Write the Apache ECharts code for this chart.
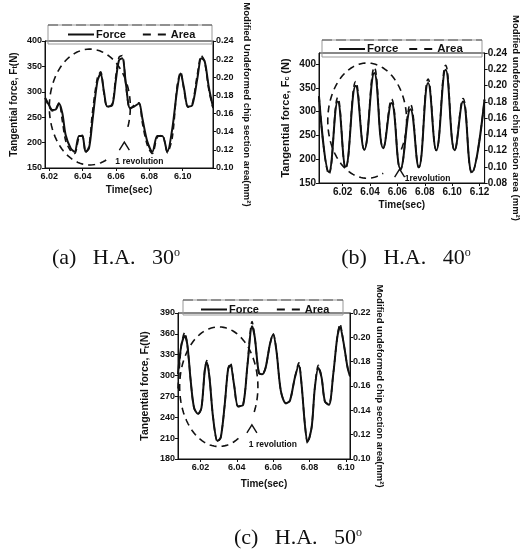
<!DOCTYPE html>
<html>
<head>
<meta charset="utf-8">
<script src="https://cdn.jsdelivr.net/npm/echarts@6/dist/echarts.min.js"></script>
<style>
  html, body { margin: 0; background: #fff; }
  #main { width: 522px; height: 551px; }
</style>
</head>
<body>
<div id="main"></div>
<script>
// (a) H.A. 30
const timeA = [6.0175, 6.0198, 6.0218, 6.0238, 6.0258, 6.0278, 6.0298, 6.0328, 6.0352, 6.0378, 6.0398, 6.0418, 6.0438, 6.0458, 6.0488, 6.0508, 6.0528, 6.0548, 6.0578, 6.0598, 6.0618, 6.0638, 6.0658, 6.0684, 6.0708, 6.0738, 6.0758, 6.0788, 6.0818, 6.0848, 6.0878, 6.0908, 6.0938, 6.0968, 6.0988, 6.1008, 6.1032, 6.1058, 6.1088, 6.1112, 6.1132, 6.1158, 6.1182];
const forceA = [288, 274, 264, 265, 277, 258, 215, 189, 182, 213, 213, 182, 189, 241, 320, 336, 300, 271, 274, 320, 362, 366, 320, 268, 271, 277, 248, 202, 182, 213, 213, 182, 228, 307, 336, 307, 271, 274, 326, 366, 360, 307, 270];
const areaA = [0.177, 0.168, 0.163, 0.165, 0.172, 0.152, 0.130, 0.119, 0.116, 0.134, 0.136, 0.117, 0.124, 0.160, 0.199, 0.206, 0.182, 0.167, 0.171, 0.200, 0.222, 0.224, 0.193, 0.165, 0.169, 0.172, 0.150, 0.125, 0.116, 0.134, 0.136, 0.117, 0.134, 0.192, 0.206, 0.186, 0.167, 0.171, 0.203, 0.224, 0.217, 0.185, 0.166];

// (b) H.A. 40
const timeB = [6.0027, 6.0100, 6.0164, 6.0222, 6.0295, 6.0358, 6.0431, 6.0496, 6.0557, 6.0622, 6.0695, 6.0756, 6.0824, 6.0884, 6.0952, 6.1018, 6.1079, 6.1144, 6.1236];
const forceB = [332, 173, 321, 184, 354, 220, 381, 223, 318, 180, 305, 183, 360, 219, 388, 219, 321, 173, 325];
const areaB = [0.187, 0.091, 0.185, 0.098, 0.205, 0.121, 0.222, 0.123, 0.183, 0.096, 0.177, 0.099, 0.208, 0.120, 0.225, 0.120, 0.184, 0.092, 0.183];

// (c) H.A. 50
const timeC = [6.0077, 6.0095, 6.0114, 6.0128, 6.0147, 6.0165, 6.0187, 6.0206, 6.0224, 6.0235, 6.0250, 6.0270, 6.0294, 6.0312, 6.0334, 6.0352, 6.0365, 6.0385, 6.0407, 6.0435, 6.0459, 6.0484, 6.0499, 6.0521, 6.0539, 6.0558, 6.0582, 6.0600, 6.0618, 6.0642, 6.0670, 6.0692, 6.0719, 6.0741, 6.0756, 6.0774, 6.0789, 6.0811, 6.0829, 6.0848, 6.0866, 6.0884, 6.0906, 6.0930, 6.0952, 6.0967, 6.0985, 6.1009, 6.1022];
const forceC = [302, 343, 357, 345, 292, 254, 245, 254, 307, 319, 297, 239, 206, 211, 259, 309, 315, 287, 256, 258, 316, 371, 355, 304, 302, 311, 345, 359, 335, 278, 260, 264, 297, 315, 287, 230, 205, 225, 283, 311, 297, 263, 258, 302, 355, 370, 350, 311, 299];
const areaC = [0.158, 0.193, 0.204, 0.194, 0.164, 0.142, 0.137, 0.142, 0.173, 0.181, 0.167, 0.134, 0.114, 0.118, 0.145, 0.174, 0.179, 0.161, 0.143, 0.145, 0.178, 0.213, 0.200, 0.171, 0.170, 0.175, 0.194, 0.203, 0.189, 0.156, 0.146, 0.148, 0.167, 0.179, 0.161, 0.129, 0.113, 0.126, 0.159, 0.177, 0.167, 0.147, 0.145, 0.170, 0.200, 0.211, 0.197, 0.175, 0.168];

// tick labels
const xTicksA = [6.02, 6.04, 6.06, 6.08, 6.10];
const xTicksB = [6.02, 6.04, 6.06, 6.08, 6.10, 6.12];
const xTicksC = [6.02, 6.04, 6.06, 6.08, 6.10];
const forceTicksA = [150, 200, 250, 300, 350, 400];
const forceTicksB = [150, 200, 250, 300, 350, 400];
const forceTicksC = [180, 210, 240, 270, 300, 330, 360, 390];
const areaTicksA = [0.10, 0.12, 0.14, 0.16, 0.18, 0.20, 0.22, 0.24];
const areaTicksB = [0.08, 0.10, 0.12, 0.14, 0.16, 0.18, 0.20, 0.22, 0.24];
const areaTicksC = [0.10, 0.12, 0.14, 0.16, 0.18, 0.20, 0.22];

const FONT = '"Liberation Sans", Arial, sans-serif';
const INK = '#111';

const panels = [
  {
    grid: { left: 45, top: 41, width: 168, height: 127 },
    x: [6.0174, 6.1182], xTicks: xTicksA,
    f: [150, 400], fTicks: forceTicksA,
    a: [0.10, 0.24], aTicks: areaTicksA,
    t: timeA, force: forceA, area: areaA,
    fName: 'Tangential force, F{s|t}(N)',
    aName: 'Modified Undeformed chip section area(mm²)',
    gaps: [26, 17, 29], fs: 9, titleSize: 10, smooth: 0.3
  },
  {
    grid: { left: 319, top: 53, width: 166, height: 130 },
    x: [6.0027, 6.1237], xTicks: xTicksB,
    f: [150, 423], fTicks: forceTicksB,
    a: [0.08, 0.24], aTicks: areaTicksB,
    t: timeB, force: forceB, area: areaB,
    fName: 'Tangential force, F{s|c} (N)',
    aName: 'Modified undeformed chip section area (mm²)',
    gaps: [28, 17, 23], fs: 10, titleSize: 11, smooth: 0.45
  },
  {
    grid: { left: 178, top: 313, width: 172, height: 146 },
    x: [6.0077, 6.1022], xTicks: xTicksC,
    f: [180, 390], fTicks: forceTicksC,
    a: [0.10, 0.22], aTicks: areaTicksC,
    t: timeC, force: forceC, area: areaC,
    fName: 'Tangential force, F{s|t}(N)',
    aName: 'Modified undeformed chip section area(mm²)',
    gaps: [27, 20, 23], fs: 9, titleSize: 10.5, smooth: 0.3
  }
];

// "1 revolution" marks, in data units of each panel
const revolutions = [
  { series: 0, t: 6.0443, f: 270, rt: 0.0243, rf: 114, gap: [-60, -20], tip: [6.065, 201], label: [6.0596, 162], text: '1 revolution' },
  { series: 2, t: 6.0379, f: 281, rt: 0.0288, rf: 121, gap: [-65, -30], tip: [6.0616, 179], label: [6.0653, 160], text: '1revolution' },
  { series: 4, t: 6.0301, f: 284, rt: 0.0215, rf: 86, gap: [-55, -25], tip: [6.0483, 229], label: [6.0466, 201], text: '1 revolution' }
];

const grids = [], xAxes = [], yAxes = [], series = [];
const labelBase = { color: INK, fontFamily: FONT, fontWeight: 'bold' };

panels.forEach(function (p, k) {
  grids.push(Object.assign({ show: true, borderColor: INK, borderWidth: 1, backgroundColor: 'transparent' }, p.grid));
  xAxes.push({
    type: 'value', gridIndex: k, min: p.x[0], max: p.x[1],
    name: 'Time(sec)', nameLocation: 'middle', nameGap: p.gaps[1],
    nameTextStyle: Object.assign({ fontSize: 10 }, labelBase),
    axisLine: { onZero: false, lineStyle: { color: INK } },
    axisTick: { length: 3, customValues: p.xTicks, lineStyle: { color: INK } },
    axisLabel: Object.assign({ fontSize: p.fs, margin: 4, customValues: p.xTicks, formatter: function (v) { return v.toFixed(2); } }, labelBase),
    splitLine: { show: false }
  });
  yAxes.push({
    type: 'value', gridIndex: k, position: 'left', min: p.f[0], max: p.f[1],
    name: p.fName, nameLocation: 'middle', nameGap: p.gaps[0],
    nameTextStyle: Object.assign({ fontSize: p.titleSize, rich: { s: { fontSize: 7, fontWeight: 'bold', fontFamily: FONT, color: INK, verticalAlign: 'bottom' } } }, labelBase),
    axisLine: { show: true, lineStyle: { color: INK } },
    axisTick: { length: 3, customValues: p.fTicks, lineStyle: { color: INK } },
    axisLabel: Object.assign({ fontSize: p.fs, margin: 3, customValues: p.fTicks }, labelBase),
    splitLine: { show: false }
  });
  yAxes.push({
    type: 'value', gridIndex: k, position: 'right', min: p.a[0], max: p.a[1],
    name: p.aName, nameLocation: 'middle', nameGap: p.gaps[2], nameRotate: -90,
    nameTextStyle: Object.assign({ fontSize: 9.5 }, labelBase),
    axisLine: { show: true, lineStyle: { color: INK } },
    axisTick: { length: 3, customValues: p.aTicks, lineStyle: { color: INK } },
    axisLabel: Object.assign({ fontSize: p.fs, margin: 3, customValues: p.aTicks, formatter: function (v) { return v.toFixed(2); } }, labelBase),
    splitLine: { show: false }
  });
  series.push({
    name: 'Force', type: 'line', xAxisIndex: k, yAxisIndex: 2 * k,
    symbol: 'none', smooth: p.smooth, z: 3,
    itemStyle: { color: INK },
    lineStyle: { color: INK, width: 2 },
    data: p.t.map(function (t, i) { return [t, p.force[i]]; })
  });
  series.push({
    name: 'Area', type: 'line', xAxisIndex: k, yAxisIndex: 2 * k + 1,
    symbol: 'none', smooth: p.smooth, z: 4,
    itemStyle: { color: INK },
    lineStyle: { color: INK, width: 1.6, type: [6, 4] },
    data: p.t.map(function (t, i) { return [t, p.area[i]]; })
  });
});

function legendAt(left, top, gap, size) {
  return {
    left: left, top: top, itemWidth: 26, itemHeight: 10, itemGap: gap, padding: 0,
    selectedMode: false,
    data: ['Force', { name: 'Area', lineStyle: { type: [8, 7], width: 1.8 } }],
    itemStyle: { opacity: 0 },
    textStyle: Object.assign({ fontSize: size, padding: [0, 0, 0, -3] }, labelBase)
  };
}

const chart = echarts.init(document.getElementById('main'));
chart.setOption({
  animation: false,
  backgroundColor: '#fff',
  grid: grids,
  xAxis: xAxes,
  yAxis: yAxes,
  legend: [legendAt(67, 29, 16, 11), legendAt(338, 43, 10, 11.5), legendAt(200, 304, 17, 11)],
  series: series
});

// frames round the legends
const boxes = [[48, 25, 164, 19], [322, 40, 160, 17], [183, 300, 160, 15]];
const graphic = [];
boxes.forEach(function (b) {
  graphic.push({ type: 'rect', z: 1, shape: { x: b[0], y: b[1], width: b[2], height: b[3] }, style: { fill: 'none', stroke: '#999', lineWidth: 1 } });
  graphic.push({ type: 'line', z: 2, shape: { x1: b[0], y1: b[1], x2: b[0] + b[2], y2: b[1] }, style: { stroke: '#555', lineWidth: 1, lineDash: [10, 4] } });
});

// dashed ellipse, arrow tip and label for one revolution
revolutions.forEach(function (r) {
  const px = function (t, f) { return chart.convertToPixel({ seriesIndex: r.series }, [t, f]); };
  const c = px(r.t, r.f);
  const rx = px(r.t + r.rt, r.f)[0] - c[0];
  const ry = c[1] - px(r.t, r.f + r.rf)[1];
  const pts = [];
  for (let d = r.gap[1]; d <= r.gap[0] + 360; d += 3) {
    const a = d * Math.PI / 180;
    pts.push([c[0] + rx * Math.cos(a), c[1] - ry * Math.sin(a)]);
  }
  graphic.push({ type: 'polyline', z: 5, shape: { points: pts }, style: { fill: 'none', stroke: INK, lineWidth: 1.6, lineDash: [7, 5] } });
  const tip = px(r.tip[0], r.tip[1]);
  graphic.push({ type: 'polyline', z: 5, shape: { points: [[tip[0] - 5, tip[1] + 8], tip, [tip[0] + 5, tip[1] + 8]] }, style: { fill: 'none', stroke: INK, lineWidth: 1.4 } });
  const lp = px(r.label[0], r.label[1]);
  graphic.push({ type: 'text', z: 5, x: lp[0], y: lp[1], style: { text: r.text, fontSize: 8.5, fontWeight: 'bold', fontFamily: FONT, fill: INK, verticalAlign: 'middle' } });
});

// captions
const captions = [['(a)   H.A.   30', 116, 258], ['(b)   H.A.   40', 406, 258], ['(c)   H.A.   50', 298, 538]];
captions.forEach(function (c) {
  graphic.push({
    type: 'text', x: c[1], y: c[2],
    style: {
      text: c[0] + '{d|o}', align: 'center', verticalAlign: 'middle',
      fontFamily: '"Liberation Serif", "DejaVu Serif", serif', fontSize: 22, fill: INK,
      rich: { d: { fontFamily: '"Liberation Serif", serif', fontSize: 12, fill: INK, verticalAlign: 'top', lineHeight: 12, padding: [0, 0, 12, 0] } }
    }
  });
});

chart.setOption({ graphic: graphic });
</script>
</body>
</html>
